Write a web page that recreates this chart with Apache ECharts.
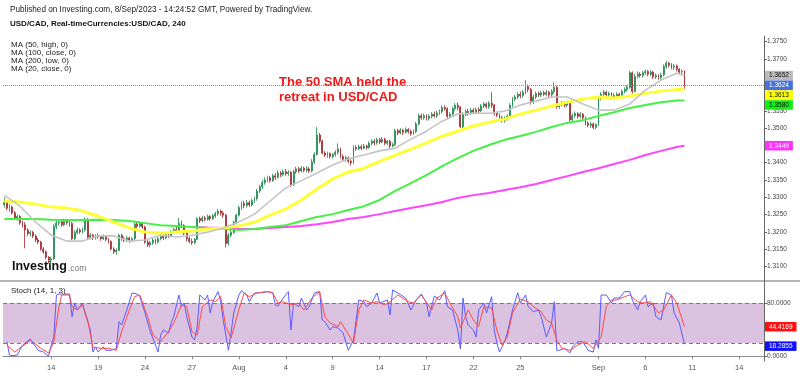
<!DOCTYPE html>
<html><head><meta charset="utf-8">
<script src="https://cdn.jsdelivr.net/npm/echarts@6/dist/echarts.min.js"></script>
<style>html,body{margin:0;padding:0;background:#fff}#c{width:800px;height:376px}</style>
</head><body><div id="c"></div>
<script>
const FONT = '"Liberation Sans", Arial, Helvetica, sans-serif';
const barCount = 292;
const dateLabels = [[18,'14'],[36,'19'],[54,'24'],[72,'27'],[90,'Aug'],[108,'4'],[126,'9'],[144,'14'],[162,'17'],[180,'22'],[198,'25'],[228,'Sep'],[246,'6'],[264,'11'],[282,'14']];
const priceTicks = [1.3100,1.3150,1.3200,1.3250,1.3300,1.3350,1.3400,1.3450,1.3500,1.3550,1.3600,1.3650,1.3700,1.3750];
const stochTicks = [0, 80];
const stochBand = [20, 80];

// [open, close, low, high] per 4h bar
const candles = [
[1.3278,1.3285,1.3270,1.3300],[1.3285,1.3268,1.3262,1.3290],[1.3268,1.3272,1.3258,1.3280],[1.3272,1.3255,1.3250,1.3276],
[1.3255,1.3240,1.3236,1.3260],[1.3240,1.3244,1.3232,1.3250],[1.3244,1.3226,1.3220,1.3248],[1.3226,1.3220,1.3212,1.3232],
[1.3220,1.3205,1.3152,1.3228],[1.3205,1.3195,1.3188,1.3210],[1.3195,1.3198,1.3186,1.3204],[1.3198,1.3188,1.3182,1.3203],
[1.3188,1.3176,1.3170,1.3192],[1.3176,1.3170,1.3164,1.3182],[1.3170,1.3150,1.3145,1.3174],[1.3150,1.3142,1.3136,1.3156],
[1.3142,1.3126,1.3120,1.3146],[1.3126,1.3118,1.3108,1.3130],[1.3118,1.3122,1.3105,1.3128],[1.3122,1.3215,1.3118,1.3222],
[1.3215,1.3225,1.3208,1.3232],[1.3225,1.3228,1.3218,1.3236],[1.3228,1.3220,1.3214,1.3234],[1.3220,1.3230,1.3216,1.3238],
[1.3230,1.3226,1.3220,1.3236],[1.3226,1.3224,1.3215,1.3232],[1.3224,1.3180,1.3176,1.3228],[1.3180,1.3198,1.3175,1.3204],
[1.3198,1.3205,1.3192,1.3212],[1.3205,1.3200,1.3194,1.3210],[1.3200,1.3206,1.3195,1.3212],[1.3206,1.3236,1.3200,1.3242],
[1.3236,1.3184,1.3178,1.3240],[1.3184,1.3190,1.3178,1.3196],[1.3190,1.3182,1.3176,1.3194],[1.3182,1.3188,1.3177,1.3193],
[1.3188,1.3185,1.3180,1.3195],[1.3185,1.3180,1.3174,1.3190],[1.3180,1.3186,1.3176,1.3192],[1.3186,1.3178,1.3172,1.3190],
[1.3178,1.3172,1.3166,1.3182],[1.3172,1.3150,1.3146,1.3175],[1.3150,1.3142,1.3136,1.3155],[1.3142,1.3146,1.3134,1.3152],
[1.3146,1.3190,1.3144,1.3194],[1.3190,1.3180,1.3174,1.3194],[1.3180,1.3176,1.3170,1.3186],[1.3176,1.3182,1.3170,1.3188],
[1.3182,1.3175,1.3168,1.3186],[1.3175,1.3180,1.3170,1.3184],[1.3180,1.3222,1.3176,1.3228],[1.3222,1.3216,1.3210,1.3228],
[1.3216,1.3224,1.3212,1.3230],[1.3224,1.3214,1.3208,1.3228],[1.3214,1.3170,1.3165,1.3218],[1.3170,1.3162,1.3156,1.3176],
[1.3162,1.3168,1.3155,1.3174],[1.3168,1.3176,1.3162,1.3182],[1.3176,1.3170,1.3164,1.3180],[1.3170,1.3180,1.3166,1.3185],
[1.3180,1.3186,1.3175,1.3192],[1.3186,1.3182,1.3176,1.3194],[1.3182,1.3192,1.3178,1.3198],[1.3192,1.3188,1.3182,1.3198],
[1.3188,1.3200,1.3184,1.3205],[1.3200,1.3206,1.3196,1.3212],[1.3206,1.3202,1.3196,1.3214],[1.3202,1.3224,1.3198,1.3240],
[1.3224,1.3218,1.3210,1.3232],[1.3218,1.3196,1.3190,1.3222],[1.3196,1.3180,1.3172,1.3200],[1.3180,1.3172,1.3166,1.3186],
[1.3172,1.3168,1.3162,1.3180],[1.3168,1.3178,1.3164,1.3182],[1.3178,1.3238,1.3176,1.3242],[1.3238,1.3232,1.3226,1.3244],
[1.3232,1.3240,1.3228,1.3246],[1.3240,1.3236,1.3230,1.3246],[1.3236,1.3244,1.3232,1.3250],[1.3244,1.3238,1.3232,1.3248],
[1.3238,1.3246,1.3234,1.3252],[1.3246,1.3252,1.3240,1.3258],[1.3252,1.3260,1.3246,1.3266],[1.3260,1.3254,1.3246,1.3264],
[1.3254,1.3248,1.3240,1.3260],[1.3248,1.3166,1.3155,1.3252],[1.3166,1.3190,1.3160,1.3196],[1.3190,1.3198,1.3184,1.3204],
[1.3198,1.3228,1.3194,1.3232],[1.3228,1.3248,1.3222,1.3252],[1.3248,1.3270,1.3244,1.3276],[1.3270,1.3282,1.3264,1.3288],
[1.3282,1.3276,1.3268,1.3290],[1.3276,1.3284,1.3270,1.3292],[1.3284,1.3278,1.3272,1.3290],[1.3278,1.3290,1.3274,1.3296],
[1.3290,1.3296,1.3284,1.3302],[1.3296,1.3318,1.3290,1.3324],[1.3318,1.3330,1.3312,1.3336],[1.3330,1.3342,1.3324,1.3350],
[1.3342,1.3350,1.3336,1.3358],[1.3350,1.3356,1.3344,1.3362],[1.3356,1.3348,1.3342,1.3362],[1.3348,1.3362,1.3344,1.3368],
[1.3362,1.3358,1.3350,1.3370],[1.3358,1.3370,1.3354,1.3378],[1.3370,1.3366,1.3358,1.3376],[1.3366,1.3374,1.3360,1.3380],
[1.3374,1.3368,1.3362,1.3382],[1.3368,1.3372,1.3362,1.3378],[1.3372,1.3336,1.3330,1.3376],[1.3336,1.3374,1.3332,1.3380],
[1.3374,1.3382,1.3368,1.3388],[1.3382,1.3376,1.3370,1.3388],[1.3376,1.3384,1.3372,1.3390],[1.3384,1.3378,1.3372,1.3388],
[1.3378,1.3382,1.3372,1.3390],[1.3382,1.3376,1.3370,1.3388],[1.3376,1.3402,1.3372,1.3410],[1.3402,1.3424,1.3396,1.3430],
[1.3424,1.3480,1.3420,1.3503],[1.3480,1.3462,1.3456,1.3486],[1.3462,1.3428,1.3424,1.3466],[1.3428,1.3422,1.3416,1.3434],
[1.3422,1.3426,1.3414,1.3432],[1.3426,1.3418,1.3412,1.3430],[1.3418,1.3424,1.3412,1.3428],[1.3424,1.3430,1.3418,1.3436],
[1.3430,1.3440,1.3424,1.3456],[1.3440,1.3418,1.3412,1.3444],[1.3418,1.3410,1.3404,1.3424],[1.3410,1.3414,1.3402,1.3420],
[1.3414,1.3404,1.3398,1.3418],[1.3404,1.3400,1.3392,1.3410],[1.3400,1.3444,1.3396,1.3450],[1.3444,1.3440,1.3434,1.3450],
[1.3440,1.3446,1.3436,1.3452],[1.3446,1.3442,1.3436,1.3452],[1.3442,1.3448,1.3438,1.3454],[1.3448,1.3444,1.3438,1.3452],
[1.3444,1.3456,1.3440,1.3462],[1.3456,1.3462,1.3450,1.3468],[1.3462,1.3458,1.3450,1.3468],[1.3458,1.3466,1.3452,1.3472],
[1.3466,1.3460,1.3454,1.3472],[1.3460,1.3468,1.3456,1.3474],[1.3468,1.3456,1.3450,1.3472],[1.3456,1.3462,1.3450,1.3466],
[1.3462,1.3448,1.3442,1.3466],[1.3448,1.3452,1.3444,1.3458],[1.3452,1.3492,1.3448,1.3498],[1.3492,1.3486,1.3480,1.3498],
[1.3486,1.3494,1.3482,1.3500],[1.3494,1.3488,1.3480,1.3498],[1.3488,1.3496,1.3484,1.3502],[1.3496,1.3490,1.3484,1.3500],
[1.3490,1.3484,1.3478,1.3496],[1.3484,1.3490,1.3480,1.3496],[1.3490,1.3512,1.3486,1.3518],[1.3512,1.3536,1.3508,1.3542],
[1.3536,1.3530,1.3524,1.3542],[1.3530,1.3536,1.3524,1.3542],[1.3536,1.3528,1.3522,1.3540],[1.3528,1.3534,1.3522,1.3540],
[1.3534,1.3540,1.3528,1.3546],[1.3540,1.3536,1.3530,1.3548],[1.3536,1.3544,1.3530,1.3550],[1.3544,1.3548,1.3538,1.3554],
[1.3548,1.3560,1.3542,1.3566],[1.3560,1.3556,1.3550,1.3566],[1.3556,1.3534,1.3528,1.3560],[1.3534,1.3540,1.3528,1.3546],
[1.3540,1.3556,1.3536,1.3562],[1.3556,1.3566,1.3550,1.3572],[1.3566,1.3560,1.3552,1.3574],[1.3560,1.3504,1.3500,1.3564],
[1.3504,1.3540,1.3500,1.3546],[1.3540,1.3548,1.3534,1.3554],[1.3548,1.3544,1.3536,1.3556],[1.3544,1.3552,1.3538,1.3558],
[1.3552,1.3546,1.3540,1.3558],[1.3546,1.3554,1.3540,1.3560],[1.3554,1.3550,1.3542,1.3560],[1.3550,1.3564,1.3546,1.3570],
[1.3564,1.3570,1.3558,1.3576],[1.3570,1.3562,1.3556,1.3574],[1.3562,1.3572,1.3556,1.3578],[1.3572,1.3566,1.3558,1.3604],
[1.3566,1.3542,1.3536,1.3570],[1.3542,1.3538,1.3532,1.3548],[1.3538,1.3530,1.3524,1.3542],[1.3530,1.3522,1.3516,1.3536],
[1.3522,1.3528,1.3516,1.3534],[1.3528,1.3534,1.3522,1.3540],[1.3534,1.3566,1.3530,1.3572],[1.3566,1.3584,1.3560,1.3590],
[1.3584,1.3590,1.3578,1.3596],[1.3590,1.3598,1.3584,1.3604],[1.3598,1.3594,1.3586,1.3606],[1.3594,1.3604,1.3588,1.3610],
[1.3604,1.3620,1.3598,1.3639],[1.3620,1.3612,1.3604,1.3626],[1.3612,1.3574,1.3568,1.3616],[1.3574,1.3590,1.3570,1.3596],
[1.3590,1.3600,1.3584,1.3606],[1.3600,1.3596,1.3590,1.3606],[1.3596,1.3602,1.3590,1.3608],[1.3602,1.3598,1.3592,1.3608],
[1.3598,1.3604,1.3592,1.3610],[1.3604,1.3596,1.3588,1.3608],[1.3596,1.3606,1.3590,1.3612],[1.3606,1.3618,1.3600,1.3633],
[1.3618,1.3562,1.3556,1.3622],[1.3562,1.3568,1.3556,1.3574],[1.3568,1.3572,1.3562,1.3578],[1.3572,1.3566,1.3560,1.3578],
[1.3566,1.3574,1.3560,1.3580],[1.3574,1.3524,1.3518,1.3578],[1.3524,1.3536,1.3518,1.3542],[1.3536,1.3542,1.3530,1.3548],
[1.3542,1.3534,1.3528,1.3546],[1.3534,1.3540,1.3528,1.3546],[1.3540,1.3530,1.3524,1.3544],[1.3530,1.3514,1.3508,1.3534],
[1.3514,1.3508,1.3502,1.3520],[1.3508,1.3512,1.3500,1.3518],[1.3512,1.3502,1.3496,1.3516],[1.3502,1.3510,1.3497,1.3514],
[1.3510,1.3586,1.3506,1.3592],[1.3586,1.3598,1.3580,1.3604],[1.3598,1.3604,1.3592,1.3610],[1.3604,1.3596,1.3590,1.3608],
[1.3596,1.3600,1.3590,1.3606],[1.3600,1.3594,1.3588,1.3604],[1.3594,1.3590,1.3584,1.3600],[1.3590,1.3598,1.3584,1.3604],
[1.3598,1.3594,1.3588,1.3602],[1.3594,1.3606,1.3590,1.3612],[1.3606,1.3612,1.3600,1.3618],[1.3612,1.3618,1.3606,1.3624],
[1.3618,1.3660,1.3614,1.3666],[1.3660,1.3606,1.3600,1.3664],[1.3606,1.3650,1.3604,1.3658],[1.3650,1.3656,1.3644,1.3664],
[1.3656,1.3652,1.3646,1.3662],[1.3652,1.3660,1.3646,1.3666],[1.3660,1.3664,1.3654,1.3670],[1.3664,1.3656,1.3650,1.3668],
[1.3656,1.3662,1.3650,1.3668],[1.3662,1.3648,1.3642,1.3666],[1.3648,1.3652,1.3642,1.3658],[1.3652,1.3646,1.3640,1.3656],
[1.3646,1.3654,1.3640,1.3660],[1.3654,1.3678,1.3650,1.3684],[1.3678,1.3688,1.3672,1.3695],[1.3688,1.3682,1.3676,1.3692],
[1.3682,1.3676,1.3670,1.3688],[1.3676,1.3680,1.3668,1.3686],[1.3680,1.3670,1.3664,1.3684],[1.3670,1.3662,1.3656,1.3674],
[1.3662,1.3664,1.3656,1.3670],[1.3664,1.3624,1.3612,1.3668]
];

// moving averages: [bar index, value]
const ma20 = [[0,1.3306],[6,1.3274],[12,1.3228],[18,1.3190],[24,1.3173],[30,1.3173],[36,1.3188],[42,1.3188],[48,1.3173],[54,1.3176],[60,1.3190],[66,1.3185],[72,1.3190],[78,1.3199],[84,1.3211],[90,1.3228],[96,1.3251],[102,1.3289],[108,1.3327],[114,1.3348],[120,1.3370],[126,1.3393],[132,1.3411],[138,1.3422],[144,1.3434],[150,1.3442],[156,1.3468],[162,1.3491],[168,1.3520],[174,1.3541],[180,1.3543],[186,1.3543],[192,1.3549],[198,1.3567],[204,1.3578],[210,1.3590],[216,1.3590],[222,1.3570],[228,1.3552],[234,1.3552],[240,1.3570],[246,1.3610],[252,1.3639],[258,1.3659],[261,1.3652]];
const ma50 = [[0,1.3289],[6,1.3286],[12,1.3280],[18,1.3272],[24,1.3269],[30,1.3260],[36,1.3245],[42,1.3228],[48,1.3211],[54,1.3199],[60,1.3196],[66,1.3199],[72,1.3202],[78,1.3208],[84,1.3211],[90,1.3217],[96,1.3228],[102,1.3248],[108,1.3266],[114,1.3292],[120,1.3324],[126,1.3353],[132,1.3373],[138,1.3384],[144,1.3404],[150,1.3422],[156,1.3439],[162,1.3457],[168,1.3477],[174,1.3491],[180,1.3506],[186,1.3517],[192,1.3526],[198,1.3541],[204,1.3552],[210,1.3564],[216,1.3575],[222,1.3584],[228,1.3590],[234,1.3587],[240,1.3593],[246,1.3601],[252,1.3607],[258,1.3612],[261,1.3613]];
const ma100 = [[0,1.3237],[6,1.3237],[12,1.3237],[18,1.3235],[24,1.3234],[30,1.3234],[36,1.3235],[42,1.3234],[48,1.3231],[54,1.3225],[60,1.3219],[66,1.3217],[72,1.3214],[78,1.3211],[84,1.3208],[90,1.3205],[96,1.3208],[102,1.3214],[108,1.3219],[114,1.3231],[120,1.3243],[126,1.3251],[132,1.3263],[138,1.3274],[144,1.3292],[150,1.3318],[156,1.3341],[162,1.3364],[168,1.3390],[174,1.3413],[180,1.3434],[186,1.3451],[192,1.3466],[198,1.3477],[204,1.3489],[210,1.3503],[216,1.3515],[222,1.3523],[228,1.3535],[234,1.3546],[240,1.3558],[246,1.3567],[252,1.3575],[258,1.3580],[261,1.3580]];
const ma200 = [[72,1.3214],[78,1.3212],[84,1.3211],[90,1.3209],[96,1.3208],[102,1.3211],[108,1.3214],[114,1.3217],[120,1.3222],[126,1.3228],[132,1.3237],[138,1.3243],[144,1.3251],[150,1.3260],[156,1.3269],[162,1.3277],[168,1.3286],[174,1.3298],[180,1.3306],[186,1.3312],[192,1.3321],[198,1.3329],[204,1.3338],[210,1.3350],[216,1.3361],[222,1.3373],[228,1.3384],[234,1.3396],[240,1.3408],[246,1.3422],[252,1.3434],[258,1.3445],[261,1.3449]];

// Stochastic (14,1,3): [bar index, value]
const stochK = [[1,22],[2,2],[3,1],[5,2],[7,17],[10,26],[11,20],[13,9],[15,6.5],[17,0],[18,17],[19,29],[20,92],[21,93.5],[25,93.5],[26,59.5],[27,80],[28,69.5],[30,80],[31,65],[33,39.5],[34,6.5],[35,14],[36,6.5],[38,14],[39,9],[41,9],[43,12],[44,52],[45,47],[47,69.5],[49,95],[51,93.5],[52,89.5],[54,65],[56,37],[57,27.5],[59,6.5],[60,32],[61,39.5],[63,35],[64,50],[65,59.5],[67,92],[68,74.5],[69,80],[70,59.5],[72,29],[73,24.5],[74,44.5],[75,92],[77,84.5],[78,92],[79,65],[80,82],[82,97],[83,84.5],[84,54.5],[86,9],[87,35],[88,65],[90,92],[91,98.5],[93,92],[94,82],[96,95],[98,95.5],[101,97],[103,95.5],[104,77],[105,75.5],[107,87.5],[109,97],[110,39.5],[111,80],[113,74.5],[114,87.5],[116,69.5],[117,74.5],[119,95],[121,97],[122,54.5],[123,52],[125,39.5],[126,44.5],[128,42.5],[130,35],[132,9],[134,24.5],[135,54.5],[136,84.5],[138,82],[139,74.5],[141,80],[143,95],[144,80],[147,84.5],[148,62],[149,99.5],[151,95],[154,87.5],[156,69.5],[158,84.5],[160,93.5],[162,80],[163,59.5],[165,90.5],[167,84.5],[169,98.5],[170,74.5],[172,69.5],[174,39.5],[175,11],[176,87.5],[177,59.5],[178,47],[180,39.5],[181,29],[182,69.5],[184,80],[185,65],[187,89.5],[188,39.5],[189,20],[190,6.5],[192,22],[193,35],[195,69.5],[197,95.5],[198,80],[200,92],[201,74.5],[203,67],[205,69.5],[206,59.5],[208,29],[210,50],[211,82],[212,9],[213,9],[215,12],[217,5],[218,14],[220,22],[222,22],[224,9],[226,6.5],[227,24.5],[228,12],[229,92],[231,92],[233,80],[234,87.5],[236,87.5],[238,97],[240,97],[241,84.5],[243,69.5],[244,82],[246,92],[247,74.5],[249,80],[250,59.5],[252,54.5],[254,95.5],[256,92],[257,65],[258,57.5],[259,50],[261,18.2855]];
const stochD = [[1,17],[4,6.5],[10,24.5],[14,12],[17,5],[19,22],[21,74.5],[22,92],[25,92],[26,74.5],[28,69.5],[30,77],[32,54.5],[34,14],[37,12],[40,12],[43,9],[45,37],[48,69.5],[50,89.5],[52,92],[55,59.5],[57,32],[60,22],[63,37],[65,50],[68,77],[70,74.5],[72,37],[74,32],[76,74.5],[79,84.5],[81,82],[83,89.5],[85,44.5],[87,27.5],[90,69.5],[92,95],[94,89.5],[97,95],[101,97],[103,95],[105,80],[107,82],[110,77],[113,80],[115,69.5],[118,87.5],[121,97],[123,59.5],[125,50],[128,44.5],[129,52],[131,39.5],[134,20],[136,69.5],[138,84.5],[141,80],[143,82],[146,77],[148,82],[151,92],[155,82],[157,80],[160,92],[164,69.5],[166,87.5],[169,95],[171,80],[174,59.5],[175,42.5],[178,69.5],[180,54.5],[182,44.5],[184,74.5],[187,72.5],[189,39.5],[191,17],[193,29],[195,65],[198,86],[201,82],[203,74.5],[206,67],[208,54.5],[210,50],[212,24.5],[214,12],[217,9],[220,17],[223,22],[226,12],[229,29],[231,74.5],[233,84.5],[235,84.5],[238,89.5],[240,92],[243,82],[245,80],[248,82],[251,65],[253,69.5],[256,92],[258,80],[261,44.4169]];

const categories = Array.from({length: barCount}, (_, i) => String(i));
const labelMap = new Map(dateLabels);
const last = a => a[a.length - 1][1];
const lastClose = candles[candles.length - 1][1];

function tag(value, bg, fg, digits, shiftY) {
  return {
    yAxis: value,
    lineStyle: {color: 'rgba(0,0,0,0)', width: 1},
    label: {show: true, position: 'end', distance: 1, formatter: value.toFixed(digits), offset: [0, shiftY || 0],
      backgroundColor: bg, color: fg, fontSize: 6.5, fontFamily: FONT, padding: [1.5, 4, 1, 4]}
  };
}
function maSeries(name, data, color, width, tagBg, tagFg, shiftY) {
  return {
    name, type: 'line', xAxisIndex: 0, yAxisIndex: 0, data, showSymbol: false, symbol: 'none',
    lineStyle: {color, width}, z: 3, silent: true,
    markLine: {silent: true, precision: 4, symbol: ['none', 'none'], data: [tag(last(data), tagBg, tagFg, 4, shiftY)], z: 6}
  };
}

const chart = echarts.init(document.getElementById('c'), null, {renderer: 'canvas'});
const txt = (text, x, y, size, extra) => ({type: 'text', left: x, top: y, silent: true,
  style: Object.assign({text, fontSize: size, fontFamily: FONT, fill: '#111'}, extra || {})});

chart.setOption({
  animation: false,
  backgroundColor: '#ffffff',
  grid: [
    {left: 3, right: 36, top: 36, height: 245},
    {left: 3, right: 36, top: 281, height: 80}
  ],
  xAxis: [
    {type: 'category', gridIndex: 0, data: categories, boundaryGap: true, show: false},
    {type: 'category', gridIndex: 1, data: categories, boundaryGap: true,
      axisLine: {show: true, lineStyle: {color: '#8c8c8c', width: 1}},
      axisTick: {show: true, interval: (i) => labelMap.has(i), alignWithLabel: true, length: 3, lineStyle: {color: '#8c8c8c'}},
      axisLabel: {interval: (i) => labelMap.has(i), formatter: (v, i) => labelMap.get(i) || '', fontSize: 7.5, color: '#555', fontFamily: FONT, margin: 3},
      splitLine: {show: false}}
  ],
  yAxis: [
    {type: 'value', gridIndex: 0, position: 'right', min: 1.30575, max: 1.37665, scale: true,
      axisLine: {show: true, lineStyle: {color: '#666'}},
      axisTick: {show: true, length: 3, customValues: priceTicks, lineStyle: {color: '#666'}},
      axisLabel: {customValues: priceTicks, formatter: v => v.toFixed(4), fontSize: 6.5, color: '#444', fontFamily: FONT, margin: 3},
      splitLine: {show: false}},
    {type: 'value', gridIndex: 1, position: 'right', min: -7, max: 113,
      axisLine: {show: true, lineStyle: {color: '#666'}},
      axisTick: {show: true, length: 3, customValues: stochTicks, lineStyle: {color: '#666'}},
      axisLabel: {customValues: stochTicks, formatter: v => v.toFixed(4), fontSize: 6.5, color: '#444', fontFamily: FONT, margin: 3},
      splitLine: {show: false}}
  ],
  series: [
    {name: 'USD/CAD', type: 'candlestick', xAxisIndex: 0, yAxisIndex: 0, data: candles, barWidth: 1.4, silent: true, z: 2,
      itemStyle: {color: '#1f8a4c', color0: '#a3292d', borderColor: '#1f8a4c', borderColor0: '#a3292d', borderWidth: 0.8},
      markLine: {silent: true, precision: 4, symbol: ['none', 'none'], z: 8, data: [{
        yAxis: lastClose, lineStyle: {type: 'dotted', color: '#6f87d8', width: 1},
        label: {show: true, position: 'end', distance: 1, formatter: lastClose.toFixed(4), backgroundColor: '#4b70d6',
          color: '#fff', fontSize: 6.5, fontFamily: FONT, padding: [1.5, 4, 1, 4]}}]}},
    maSeries('MA (200, low, 0)', ma200, '#ff44ff', 2, '#ff33ff', '#ffffff', 0),
    maSeries('MA (100, close, 0)', ma100, '#44f044', 2, '#11ee11', '#111111', 4.5),
    maSeries('MA (50, high, 0)', ma50, '#ffff38', 3, '#ffff00', '#111111', 6),
    maSeries('MA (20, close, 0)', ma20, '#c4c4c4', 1.6, '#b9b9b9', '#111111', 0),
    {name: '%K', type: 'line', xAxisIndex: 1, yAxisIndex: 1, data: stochK, showSymbol: false, symbol: 'none', silent: true,
      lineStyle: {color: '#5b5bff', width: 1}, z: 4,
      markArea: {silent: true, itemStyle: {color: '#dcc2e1'}, data: [[{yAxis: stochBand[0]}, {yAxis: stochBand[1]}]]},
      markLine: {silent: true, precision: 4, symbol: ['none', 'none'], z: 6, data: [
        {yAxis: stochBand[1], lineStyle: {type: [4, 3], color: '#857385', width: 1}, label: {show: false}},
        {yAxis: stochBand[0], lineStyle: {type: [4, 3], color: '#857385', width: 1}, label: {show: false}},
        tag(last(stochK), '#1010ff', '#ffffff', 4, 2)]}},
    {name: '%D', type: 'line', xAxisIndex: 1, yAxisIndex: 1, data: stochD, showSymbol: false, symbol: 'none', silent: true,
      lineStyle: {color: '#ff4a4a', width: 1}, z: 5,
      markLine: {silent: true, precision: 4, symbol: ['none', 'none'], z: 6, data: [tag(last(stochD), '#ff1010', '#ffffff', 4, 0)]}}
  ],
  graphic: [
    {type: 'rect', left: 0, top: 280, silent: true, shape: {width: 800, height: 2}, style: {fill: '#b4b4b4'}},
    txt('Published on Investing.com, 8/Sep/2023 - 14:24:52 GMT, Powered by TradingView.', 10, 6, 8.2, {fill: '#222'}),
    txt('USD/CAD, Real-timeCurrencies:USD/CAD, 240', 10, 20, 8, {fontWeight: 'bold', fill: '#111'}),
    txt('MA (50, high, 0)', 11, 41, 8, {fill: '#222'}),
    txt('MA (100, close, 0)', 11, 49, 8, {fill: '#222'}),
    txt('MA (200, low, 0)', 11, 57, 8, {fill: '#222'}),
    txt('MA (20, close, 0)', 11, 65, 8, {fill: '#222'}),
    txt('The 50 SMA held the', 279, 76, 13, {fontWeight: 'bold', fill: '#f01818'}),
    txt('retreat in USD/CAD', 279, 91, 13, {fontWeight: 'bold', fill: '#f01818'}),
    txt('Investing', 12, 260, 12.5, {fontWeight: 'bold', fill: '#111'}),
    txt('.com', 68, 264, 8.5, {fill: '#777'}),
    txt('Stoch (14, 1, 3)', 11, 287, 8, {fill: '#222'})
  ]
});
</script></body></html>
